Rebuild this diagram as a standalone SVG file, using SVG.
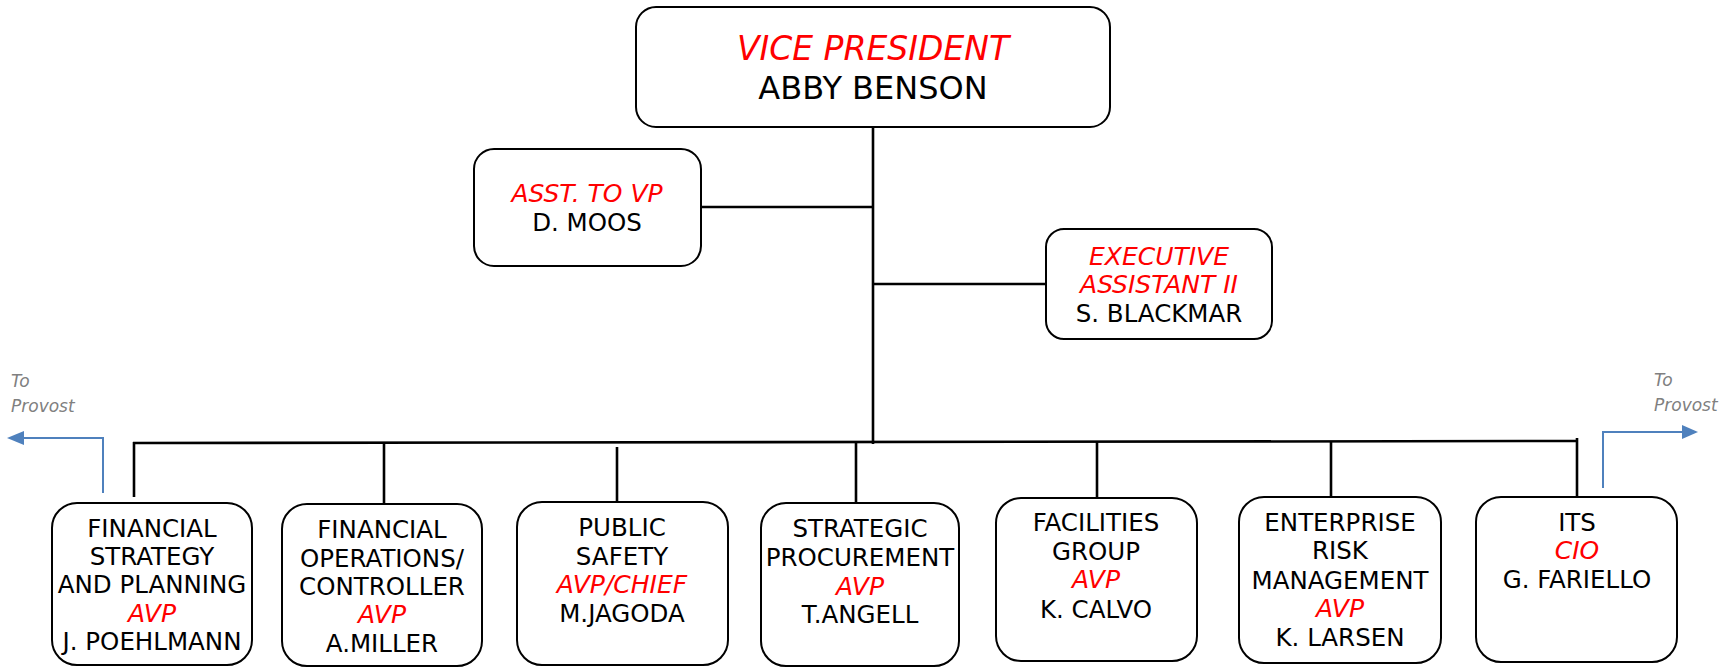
<svg xmlns="http://www.w3.org/2000/svg" width="1734" height="667" viewBox="0 0 1734 667">
<defs>
<style>
.box{fill:#fff;stroke:#000;stroke-width:2}
.t{font-family:"DejaVu Sans",Verdana,sans-serif;font-size:24.5px;fill:#000;text-anchor:middle}
.r{fill:#ff0000;font-style:italic;font-size:25px}
.big{font-size:32px}
.big.r{font-size:33px}
.c{stroke:#000;stroke-width:2.6;fill:none}
.b{stroke:#4f81bd;stroke-width:2;fill:none}
.g{font-family:"DejaVu Sans",Verdana,sans-serif;font-size:17px;fill:#808080;font-style:italic}
</style>
</defs>
<rect width="1734" height="667" fill="#fff"/>
<g id="connectors">
<line class="c" x1="873" y1="127" x2="873" y2="444"/>
<line class="c" x1="701" y1="207" x2="873" y2="207"/>
<line class="c" x1="873" y1="284" x2="1046" y2="284"/>
<line class="c" x1="133" y1="443" x2="1577" y2="441"/>
<line class="c" x1="134" y1="442" x2="134" y2="497"/>
<line class="c" x1="384" y1="442" x2="384" y2="504"/>
<line class="c" x1="617" y1="447" x2="617" y2="502"/>
<line class="c" x1="856" y1="442" x2="856" y2="503"/>
<line class="c" x1="1097" y1="441" x2="1097" y2="498"/>
<line class="c" x1="1331" y1="441" x2="1331" y2="497"/>
<line class="c" x1="1577" y1="438" x2="1577" y2="500"/>
<polyline class="b" points="103,493 103,438 20,438"/>
<path d="M7,438 L24,431 L24,445 z" fill="#4f81bd"/>
<polyline class="b" points="1603,488 1603,432 1684,432"/>
<path d="M1698,432 L1682,425 L1682,439 z" fill="#4f81bd"/>
</g>
<g id="provost-left">
<text class="g" x="11" y="387">To</text>
<text class="g" x="11" y="412">Provost</text>
</g>
<g id="provost-right">
<text class="g" x="1654" y="386">To</text>
<text class="g" x="1654" y="411">Provost</text>
</g>
<g id="vp">
<rect class="box" x="636" y="7" width="474" height="120" rx="20"/>
<text class="t big r" x="873" y="60">VICE PRESIDENT</text>
<text class="t big" x="873" y="99">ABBY BENSON</text>
</g>
<g id="asst">
<rect class="box" x="474" y="149" width="227" height="117" rx="20"/>
<text class="t r" x="587" y="202">ASST. TO VP</text>
<text class="t" x="587" y="231">D. MOOS</text>
</g>
<g id="exec">
<rect class="box" x="1046" y="229" width="226" height="110" rx="18"/>
<text class="t r" x="1159" y="265">EXECUTIVE</text>
<text class="t r" x="1159" y="293">ASSISTANT II</text>
<text class="t" x="1159" y="322">S. BLACKMAR</text>
</g>
<g id="fsp">
<rect class="box" x="52" y="503" width="200" height="162" rx="25"/>
<text class="t" x="152" y="537">FINANCIAL</text>
<text class="t" x="152" y="565">STRATEGY</text>
<text class="t" x="152" y="593">AND PLANNING</text>
<text class="t r" x="152" y="622">AVP</text>
<text class="t" x="152" y="650">J. POEHLMANN</text>
</g>
<g id="foc">
<rect class="box" x="282" y="504" width="200" height="162" rx="25"/>
<text class="t" x="382" y="538">FINANCIAL</text>
<text class="t" x="382" y="567">OPERATIONS/</text>
<text class="t" x="382" y="595">CONTROLLER</text>
<text class="t r" x="382" y="623">AVP</text>
<text class="t" x="382" y="652">A.MILLER</text>
</g>
<g id="ps">
<rect class="box" x="517" y="502" width="211" height="163" rx="25"/>
<text class="t" x="622" y="536">PUBLIC</text>
<text class="t" x="622" y="565">SAFETY</text>
<text class="t r" x="622" y="593">AVP/CHIEF</text>
<text class="t" x="622" y="622">M.JAGODA</text>
</g>
<g id="sp">
<rect class="box" x="761" y="503" width="198" height="163" rx="25"/>
<text class="t" x="860" y="537">STRATEGIC</text>
<text class="t" x="860" y="566">PROCUREMENT</text>
<text class="t r" x="860" y="595">AVP</text>
<text class="t" x="860" y="623">T.ANGELL</text>
</g>
<g id="fac">
<rect class="box" x="996" y="498" width="201" height="163" rx="25"/>
<text class="t" x="1096" y="531">FACILITIES</text>
<text class="t" x="1096" y="560">GROUP</text>
<text class="t r" x="1096" y="588">AVP</text>
<text class="t" x="1096" y="618">K. CALVO</text>
</g>
<g id="erm">
<rect class="box" x="1239" y="497" width="202" height="166" rx="25"/>
<text class="t" x="1340" y="531">ENTERPRISE</text>
<text class="t" x="1340" y="559">RISK</text>
<text class="t" x="1340" y="589">MANAGEMENT</text>
<text class="t r" x="1340" y="617">AVP</text>
<text class="t" x="1340" y="646">K. LARSEN</text>
</g>
<g id="its">
<rect class="box" x="1476" y="497" width="201" height="165" rx="25"/>
<text class="t" x="1577" y="531">ITS</text>
<text class="t r" x="1577" y="559">CIO</text>
<text class="t" x="1577" y="588">G. FARIELLO</text>
</g>
</svg>
